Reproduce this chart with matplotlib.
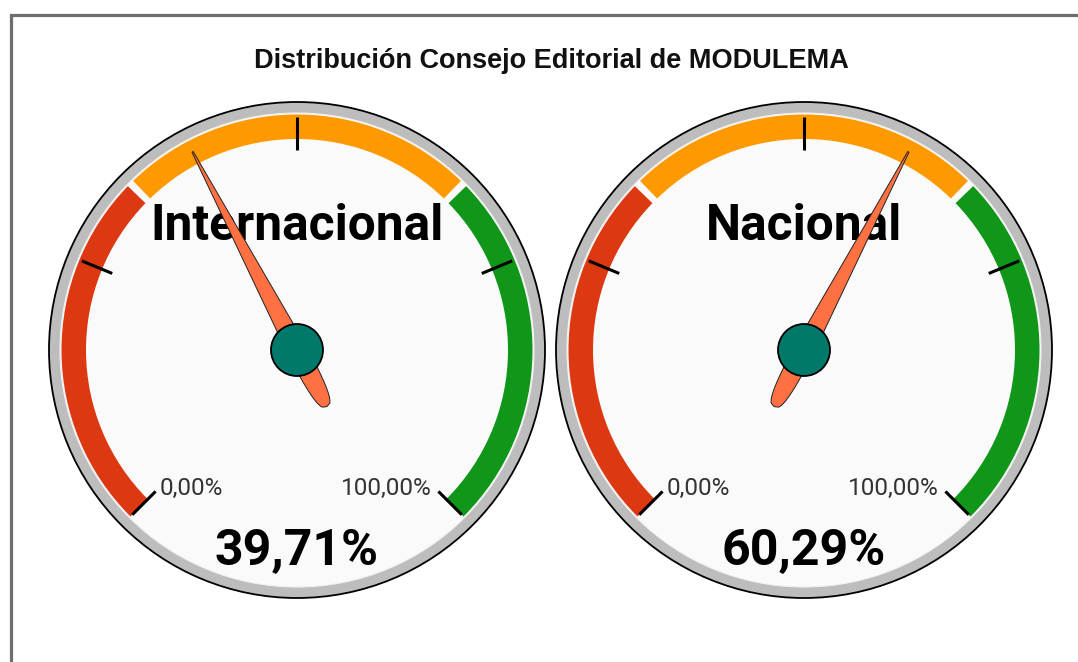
import numpy as np
import matplotlib
matplotlib.use("Agg")
import matplotlib.pyplot as plt
from matplotlib.patches import Wedge, Circle, Polygon, Rectangle

# ---- data ----
title = "Distribución Consejo Editorial de MODULEMA"
gauge_labels = ["Internacional", "Nacional"]
gauge_values = [39.71, 60.29]
scale_min = 0.0
scale_max = 100.0
band_limits = [0.0, 33.33, 66.67, 100.0]
band_colors = ["#dc3912", "#ff9900", "#109618"]
tick_values = [0, 25, 50, 75, 100]

W, H = 1078, 662
DPI = 100
fig = plt.figure(figsize=(W / DPI, H / DPI), dpi=DPI)
fig.patch.set_facecolor("white")

# border (top and left visible)
fig.add_artist(Rectangle((10.5 / W, -20 / H), (W + 40) / W, (H - 14.5 + 20) / H,
                         transform=fig.transFigure, fill=False,
                         edgecolor="#6e6e6e", linewidth=2.3))

fig.text(551 / W, 1 - 61 / H, title, ha="center", va="center",
         fontsize=19.5, fontweight="bold", family=["Liberation Sans", "DejaVu Sans"],
         color="#111111")

START, END = 225.0, -45.0  # degrees (math convention)


def ang(v):
    return START + (v - scale_min) / (scale_max - scale_min) * (END - START)


def fmt(v):
    return f"{v:.2f}".replace(".", ",") + "%"


centers_px = [(297, 350), (804, 350)]
HALF = 262

for (cx, cy), label, val in zip(centers_px, gauge_labels, gauge_values):
    ax = fig.add_axes([(cx - HALF) / W, (H - cy - HALF) / H, 2 * HALF / W, 2 * HALF / H])
    ax.set_xlim(-HALF, HALF)
    ax.set_ylim(-HALF, HALF)
    ax.set_aspect("equal")
    ax.axis("off")

    # outer ring & face
    ax.add_patch(Circle((0, 0), 248, facecolor="#bdbdbd", edgecolor="black", linewidth=1.3, zorder=1))
    ax.add_patch(Circle((0, 0), 237, facecolor="#fafafa", edgecolor="#f0f0f0", linewidth=0.8, zorder=2))

    # bands
    gap = 0.9
    for i, col in enumerate(band_colors):
        a0 = ang(band_limits[i])
        a1 = ang(band_limits[i + 1])
        g0 = 0 if i == 0 else gap
        g1 = 0 if i == len(band_colors) - 1 else gap
        ax.add_patch(Wedge((0, 0), 235.5, a1 + g1, a0 - g0, width=24.5,
                           facecolor=col, edgecolor="none", zorder=3))

    # ticks
    for tv in tick_values:
        t = np.deg2rad(ang(tv))
        ax.plot([200 * np.cos(t), 233 * np.cos(t)], [200 * np.sin(t), 233 * np.sin(t)],
                color="black", linewidth=2.2, solid_capstyle="butt", zorder=4)

    # texts
    ax.text(0, 124, label, ha="center", va="center", fontsize=35.7, fontweight="bold",
            family=["Roboto", "DejaVu Sans"], color="black", zorder=5)
    ax.text(0, -201, fmt(val), ha="center", va="center", fontsize=36, fontweight="bold",
            family=["Roboto", "DejaVu Sans"], color="black", zorder=5)
    ax.text(-137, -138, fmt(scale_min), ha="left", va="center", fontsize=17.5,
            family=["Roboto", "DejaVu Sans"], color="#333333", zorder=5)
    ax.text(135, -138, fmt(scale_max), ha="right", va="center", fontsize=17.5,
            family=["Roboto", "DejaVu Sans"], color="#333333", zorder=5)

    # needle
    th = np.deg2rad(ang(val))
    u_front = np.linspace(0, 224, 40)
    w_front = 0.7 + 9.3 * (1 - u_front / 224)
    u_back = np.linspace(0, -64, 40)
    w_back = 10.0 * np.clip(1 - np.abs(u_back / 64) ** 3, 0, 1) ** (1 / 3)
    u = np.concatenate([u_front[::-1], u_back, u_back[::-1], u_front])
    v = np.concatenate([w_front[::-1], w_back, -w_back[::-1], -w_front])
    xs = u * np.cos(th) - v * np.sin(th)
    ys = u * np.sin(th) + v * np.cos(th)
    ax.add_patch(Polygon(np.column_stack([xs, ys]), closed=True, facecolor="#ff7043",
                         edgecolor="#222222", linewidth=0.7, zorder=6))
    ax.add_patch(Circle((0, 0), 26, facecolor="#00796b", edgecolor="black", linewidth=1.3, zorder=7))

fig.savefig("out.png", dpi=DPI)
